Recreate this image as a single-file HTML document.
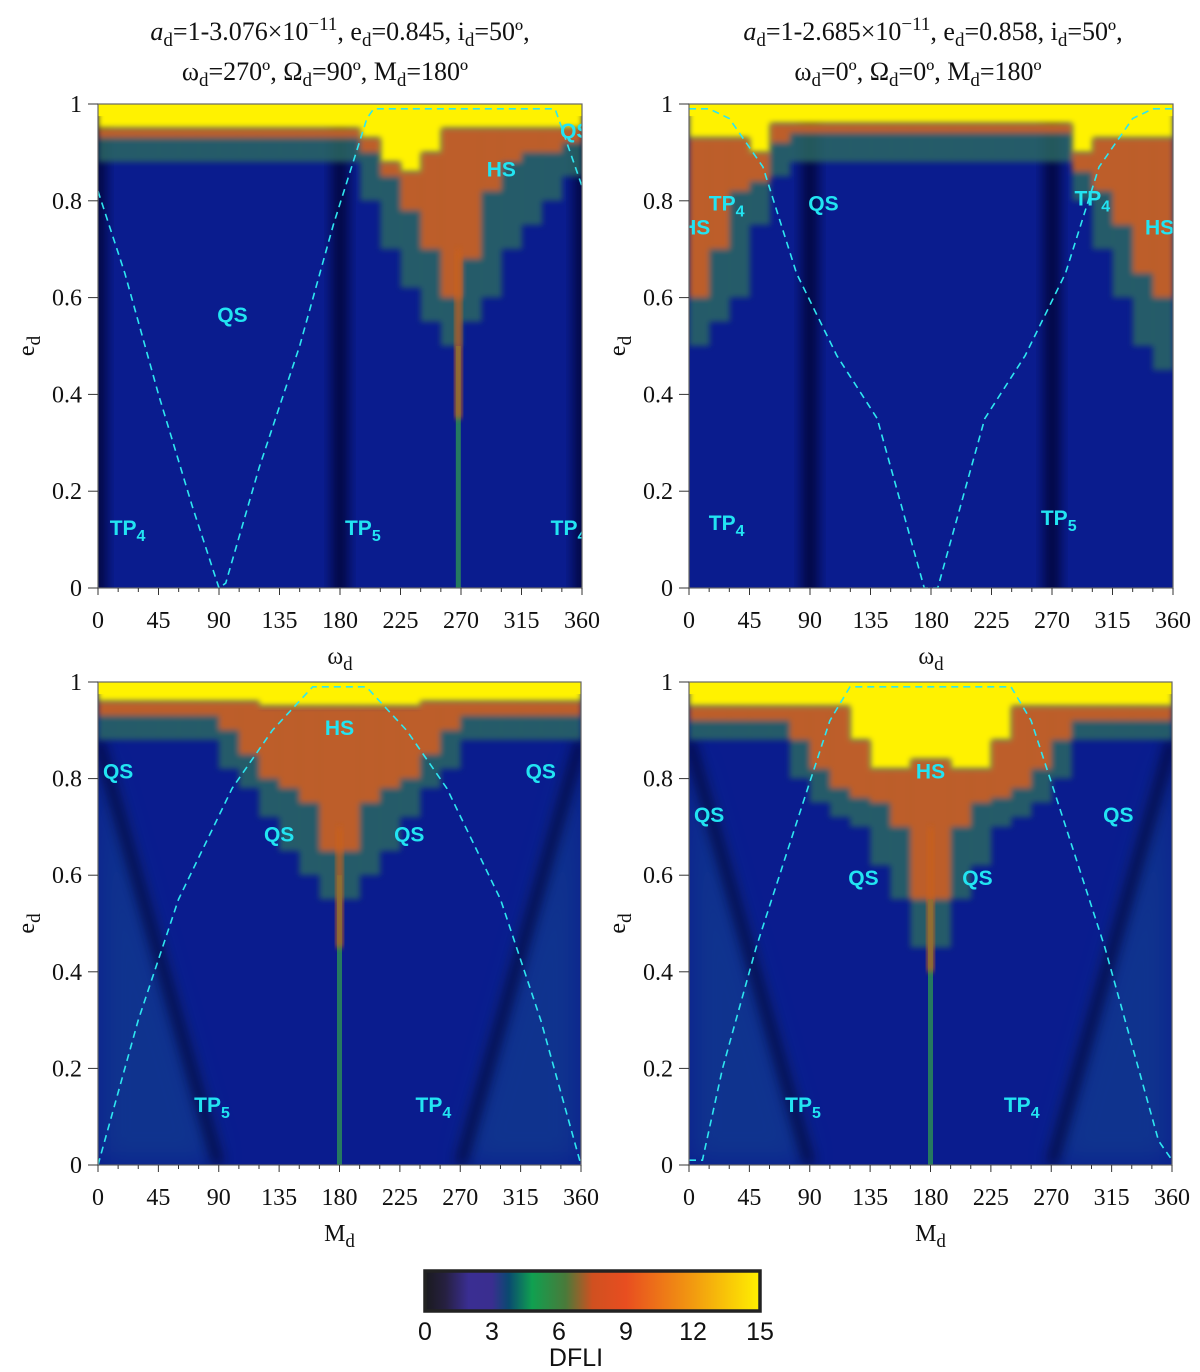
<!DOCTYPE html>
<html><head><meta charset="utf-8">
<style>
html,body{margin:0;padding:0;background:#fff;}
svg{display:block;}
.ttl{font-family:"Liberation Serif",serif;font-size:26px;fill:#111;}
.tk{font-family:"Liberation Serif",serif;font-size:24px;fill:#111;}
.lab{font-family:"Liberation Sans",sans-serif;font-weight:bold;font-size:21px;fill:#22e4f2;}
.cb{font-family:"Liberation Sans",sans-serif;font-size:25px;fill:#111;}
</style></head>
<body>
<svg id="fig" width="1200" height="1372" viewBox="0 0 1200 1372">
<defs>
<linearGradient id="cbar" x1="0" x2="1" y1="0" y2="0">
<stop offset="0" stop-color="#1a1a1e"/><stop offset="0.06" stop-color="#262040"/>
<stop offset="0.13" stop-color="#3a2e92"/><stop offset="0.2" stop-color="#3a2e90"/>
<stop offset="0.25" stop-color="#0a4a70"/><stop offset="0.32" stop-color="#10a050"/>
<stop offset="0.42" stop-color="#4a7a3a"/><stop offset="0.5" stop-color="#d05020"/>
<stop offset="0.6" stop-color="#e84e20"/><stop offset="0.8" stop-color="#f29a10"/>
<stop offset="1" stop-color="#fff000"/>
</linearGradient>
<filter id="blur6" x="-50%" y="-50%" width="200%" height="200%"><feGaussianBlur stdDeviation="6"/></filter>
<filter id="blur10" x="-50%" y="-50%" width="200%" height="200%"><feGaussianBlur stdDeviation="14"/></filter>
<filter id="blur3" x="-10%" y="-10%" width="120%" height="120%"><feGaussianBlur stdDeviation="3"/></filter>
</defs>
<g id="titles">
<text class="ttl" x="340" y="40" text-anchor="middle"><tspan font-style="italic">a</tspan><tspan font-size="19" dy="6">d</tspan><tspan dy="-6">=1-3.076×10</tspan><tspan font-size="19" dy="-10">−11</tspan><tspan dy="10">, e</tspan><tspan font-size="19" dy="6">d</tspan><tspan dy="-6">=0.845, i</tspan><tspan font-size="19" dy="6">d</tspan><tspan dy="-6">=50º,</tspan></text>
<text class="ttl" x="325" y="80" text-anchor="middle">ω<tspan font-size="19" dy="6">d</tspan><tspan dy="-6">=270º, Ω</tspan><tspan font-size="19" dy="6">d</tspan><tspan dy="-6">=90º, M</tspan><tspan font-size="19" dy="6">d</tspan><tspan dy="-6">=180º</tspan></text>
<text class="ttl" x="933" y="40" text-anchor="middle"><tspan font-style="italic">a</tspan><tspan font-size="19" dy="6">d</tspan><tspan dy="-6">=1-2.685×10</tspan><tspan font-size="19" dy="-10">−11</tspan><tspan dy="10">, e</tspan><tspan font-size="19" dy="6">d</tspan><tspan dy="-6">=0.858, i</tspan><tspan font-size="19" dy="6">d</tspan><tspan dy="-6">=50º,</tspan></text>
<text class="ttl" x="918" y="80" text-anchor="middle">ω<tspan font-size="19" dy="6">d</tspan><tspan dy="-6">=0º, Ω</tspan><tspan font-size="19" dy="6">d</tspan><tspan dy="-6">=0º, M</tspan><tspan font-size="19" dy="6">d</tspan><tspan dy="-6">=180º</tspan></text>
</g>
<g id="panels"></g>
<g id="colorbar">
<rect x="425" y="1271" width="335" height="40" fill="url(#cbar)" stroke="#222" stroke-width="3.5"/>
</g>
</svg>
<script>
const NS='http://www.w3.org/2000/svg';
const xTicks=[0,45,90,135,180,225,270,315,360];
const yTicks=[0,0.2,0.4,0.6,0.8,1];
const yTickLabels=['0','0.2','0.4','0.6','0.8','1'];
const cbTicks=[0,3,6,9,12,15];

const p1Yellow=[0.95,0.95,0.95,0.95,0.95,0.95,0.95,0.95,0.95,0.95,0.95,0.95,0.95,0.93,0.88,0.86,0.9,0.95,0.95,0.95,0.95,0.95,0.95,0.95];
const p1Chaos=[0.88,0.88,0.88,0.88,0.88,0.88,0.88,0.88,0.88,0.88,0.88,0.88,0.88,0.8,0.7,0.62,0.55,0.5,0.55,0.6,0.7,0.75,0.8,0.85];
const p1Hot=[0.93,0.93,0.93,0.93,0.93,0.93,0.93,0.93,0.93,0.93,0.93,0.93,0.93,0.9,0.85,0.78,0.7,0.6,0.68,0.82,0.88,0.9,0.9,0.92];
const p2Yellow=[0.93,0.93,0.93,0.9,0.96,0.96,0.96,0.96,0.96,0.96,0.96,0.96,0.96,0.96,0.96,0.96,0.96,0.96,0.96,0.9,0.93,0.93,0.93,0.93];
const p2Chaos=[0.5,0.55,0.6,0.75,0.85,0.88,0.88,0.88,0.88,0.88,0.88,0.88,0.88,0.88,0.88,0.88,0.88,0.88,0.88,0.8,0.7,0.6,0.5,0.45];
const p2Hot=[0.6,0.7,0.82,0.84,0.92,0.94,0.94,0.94,0.94,0.94,0.94,0.94,0.94,0.94,0.94,0.94,0.94,0.94,0.94,0.86,0.82,0.75,0.65,0.6];
const p3Yellow=[0.96,0.96,0.96,0.96,0.96,0.96,0.96,0.96,0.95,0.95,0.95,0.95,0.95,0.95,0.95,0.95,0.96,0.96,0.96,0.96,0.96,0.96,0.96,0.96];
const p3Chaos=[0.88,0.88,0.88,0.88,0.88,0.88,0.82,0.78,0.72,0.65,0.6,0.55,0.55,0.6,0.65,0.72,0.78,0.82,0.88,0.88,0.88,0.88,0.88,0.88];
const p3Hot=[0.93,0.93,0.93,0.93,0.93,0.93,0.9,0.85,0.8,0.78,0.75,0.65,0.65,0.75,0.78,0.8,0.85,0.9,0.93,0.93,0.93,0.93,0.93,0.93];
const p4Yellow=[0.95,0.95,0.95,0.95,0.95,0.95,0.95,0.95,0.88,0.82,0.82,0.84,0.84,0.82,0.82,0.88,0.95,0.95,0.95,0.95,0.95,0.95,0.95,0.95];
const p4Chaos=[0.88,0.88,0.88,0.88,0.88,0.8,0.75,0.72,0.7,0.62,0.55,0.45,0.45,0.55,0.62,0.7,0.72,0.75,0.8,0.88,0.88,0.88,0.88,0.88];
const p4Hot=[0.92,0.92,0.92,0.92,0.92,0.88,0.82,0.78,0.76,0.75,0.7,0.55,0.55,0.7,0.75,0.76,0.78,0.82,0.88,0.92,0.92,0.92,0.92,0.92];

const p1Curve=[[0,0.82],[20,0.65],[45,0.4],[70,0.17],[90,0],[95,0.01],[120,0.25],[150,0.5],[175,0.75],[200,0.97],[205,0.99],[340,0.99],[345,0.95],[360,0.83]];
const p2Curve=[[0,0.99],[15,0.99],[30,0.97],[55,0.87],[80,0.65],[110,0.48],[140,0.35],[160,0.15],[175,0],[185,0],[200,0.15],[220,0.35],[250,0.48],[280,0.65],[305,0.87],[330,0.97],[345,0.99],[360,0.99]];
const p3Curve=[[0,0],[30,0.3],[60,0.55],[100,0.78],[130,0.9],[160,0.99],[200,0.99],[230,0.9],[260,0.78],[300,0.55],[330,0.3],[360,0]];
const p4Curve=[[0,0.01],[10,0.01],[25,0.2],[50,0.45],[85,0.75],[105,0.92],[120,0.99],[240,0.99],[255,0.92],[275,0.75],[310,0.45],[335,0.2],[350,0.05],[360,0.01]];

const p1Bands=[0,180,360];
const p2Bands=[90,270];
const p3Diag=[[0,0.88,90,0],[360,0.88,270,0]];
const p4Diag=[[0,0.88,90,0],[360,0.88,270,0]];

const p1Tail=[268,0.35];
const p3Tail=[180,0.45];
const p4Tail=[180,0.4];

const p1Labels=[['QS','',100,0.55],['HS','',300,0.85],['QS','',355,0.93],['TP','4',22,0.11],['TP','4',350,0.11],['TP','5',197,0.11]];
const p2Labels=[['QS','',100,0.78],['HS','',5,0.73],['HS','',350,0.73],['TP','4',28,0.78],['TP','4',300,0.79],['TP','4',28,0.12],['TP','5',275,0.13]];
const p3Labels=[['QS','',15,0.8],['QS','',330,0.8],['HS','',180,0.89],['QS','',135,0.67],['QS','',232,0.67],['TP','5',85,0.11],['TP','4',250,0.11]];
const p4Labels=[['QS','',15,0.71],['QS','',320,0.71],['HS','',180,0.8],['QS','',130,0.58],['QS','',215,0.58],['TP','5',85,0.11],['TP','4',248,0.11]];

const panels=[
 {id:'top-left',x0:98,y0:104,w:484,h:484,xl:'ω',Y:p1Yellow,C:p1Chaos,H:p1Hot,curve:p1Curve,bands:p1Bands,diag:[],tail:p1Tail,labels:p1Labels},
 {id:'top-right',x0:689,y0:104,w:484,h:484,xl:'ω',Y:p2Yellow,C:p2Chaos,H:p2Hot,curve:p2Curve,bands:p2Bands,diag:[],tail:null,labels:p2Labels},
 {id:'bottom-left',x0:98,y0:682,w:483,h:483,xl:'M',Y:p3Yellow,C:p3Chaos,H:p3Hot,curve:p3Curve,bands:[],diag:p3Diag,tail:p3Tail,labels:p3Labels},
 {id:'bottom-right',x0:689,y0:682,w:483,h:483,xl:'M',Y:p4Yellow,C:p4Chaos,H:p4Hot,curve:p4Curve,bands:[],diag:p4Diag,tail:p4Tail,labels:p4Labels}
];
function mk(tag,attrs,parent){const e=document.createElementNS(NS,tag);for(const k in attrs)e.setAttribute(k,attrs[k]);parent.appendChild(e);return e;}
const root=document.getElementById('panels');
panels.forEach(p=>{
 const X=a=>p.x0+a/360*p.w, Yp=e=>p.y0+(1-e)*p.h;
 const g=mk('g',{},root);
 
 
 const clipId='clip-'+p.id;
 const cp=mk('clipPath',{id:clipId},g);mk('rect',{x:p.x0,y:p.y0,width:p.w,height:p.h},cp);
 const hm=mk('g',{'clip-path':'url(#'+clipId+')'},g);
 
 
 mk('rect',{x:p.x0,y:p.y0,width:p.w,height:p.h,fill:'#0a1c8e'},hm);
 p.bands.forEach(a=>{const r=mk('rect',{x:X(a)-8,y:p.y0-20,width:16,height:p.h+40,fill:'#020628',opacity:0.75,filter:'url(#blur6)'},hm);
  });
 p.diag.forEach(d=>{
  const tri=mk('polygon',{points:X(d[0])+','+Yp(d[1])+' '+X(d[2])+','+Yp(d[3])+' '+X(d[0])+','+Yp(d[3]),fill:'#1a6a90',opacity:0.3,filter:'url(#blur10)'},hm);
  
  const l=mk('line',{x1:X(d[0]),y1:Yp(d[1]),x2:X(d[2]),y2:Yp(d[3]),stroke:'#020420',"stroke-width":8,opacity:0.85,filter:'url(#blur6)'},hm);
  
 });
 const n=p.C.length,bw=p.w/n;
 const cg=mk('g',{filter:'url(#blur3)'},hm);
 for(let i=0;i<n;i++){
  const x=p.x0+i*bw;
  const c=mk('rect',{x:x,y:Yp(p.Y[i]),width:bw+0.5,height:Yp(p.C[i])-Yp(p.Y[i]),fill:'#2a6a60',opacity:0.8},cg);
  
  const h=mk('rect',{x:x,y:Yp(p.Y[i]),width:bw+0.5,height:Yp(p.H[i])-Yp(p.Y[i]),fill:'#d8601e',opacity:0.85},cg);
  
 }
 const yg=mk('g',{filter:'url(#blur3)'},hm);
 for(let i=0;i<n;i++){
  const y=mk('rect',{x:p.x0+i*bw,y:p.y0-10,width:bw+0.5,height:Yp(p.Y[i])-p.y0+10,fill:'#fff200'},yg);
  
 }
 mk('rect',{x:p.x0,y:p.y0,width:p.w,height:Yp(0.975)-p.y0,fill:'#fff200'},hm);
 if(p.tail){
  const t=mk('rect',{x:X(p.tail[0])-2.5,y:Yp(p.tail[1]+0.15),width:5,height:Yp(0)-Yp(p.tail[1]+0.15),fill:'#2a8a58',opacity:0.85},hm);
  
  const t2=mk('rect',{x:X(p.tail[0])-4,y:Yp(0.7),width:8,height:Yp(p.tail[1])-Yp(0.7),fill:'#c8601e',opacity:0.8,filter:'url(#blur3)'},hm);
  
 }
 const pts=p.curve.map(c=>X(c[0])+','+Yp(c[1])).join(' ');
 const cv=mk('polyline',{points:pts,fill:'none',stroke:'#2ee6f0',"stroke-width":1.6,"stroke-dasharray":'7,5'},hm);
 
 p.labels.forEach(L=>{
  const t=mk('text',{x:X(L[2]),y:Yp(L[3]),'class':'lab','text-anchor':'middle'},hm);
  t.textContent=L[0];
  if(L[1]){const s=mk('tspan',{'font-size':16,dy:6},t);s.textContent=L[1];}
  
 });
 const fr=mk('rect',{x:p.x0,y:p.y0,width:p.w,height:p.h,fill:'none',stroke:'#666',"stroke-width":1.2},g);
 
 for(let a=0;a<=360;a+=15){mk('line',{x1:X(a),x2:X(a),y1:p.y0+p.h,y2:p.y0+p.h+(a%45===0?7:4),stroke:'#333'},g);}
 xTicks.forEach(a=>{const t=mk('text',{x:X(a),y:p.y0+p.h+40,'class':'tk','text-anchor':'middle'},g);t.textContent=String(a);
  });
 yTicks.forEach((e,i)=>{mk('line',{x1:p.x0-10,x2:p.x0,y1:Yp(e),y2:Yp(e),stroke:'#333'},g);
  const t=mk('text',{x:p.x0-16,y:Yp(e)+8,'class':'tk','text-anchor':'end'},g);t.textContent=yTickLabels[i];
  });
 const xt=mk('text',{x:p.x0+p.w/2,y:p.y0+p.h+76,'class':'tk','text-anchor':'middle','font-size':26},g);
 xt.textContent=p.xl;const xs=mk('tspan',{'font-size':19,dy:6},xt);xs.textContent='d';
 
 const yt=mk('text',{x:0,y:0,'class':'tk','text-anchor':'middle','font-size':26,transform:'translate('+(p.x0-64)+','+(p.y0+p.h/2)+') rotate(-90)'},g);
 yt.textContent='e';const ys=mk('tspan',{'font-size':19,dy:6},yt);ys.textContent='d';
 
});
const cbg=document.getElementById('colorbar');
cbTicks.forEach(v=>{const t=mk('text',{x:425+v/15*335,y:1340,'class':'cb','text-anchor':'middle'},cbg);t.textContent=String(v);
 });
const dl=mk('text',{x:576,y:1366,'class':'cb','text-anchor':'middle'},cbg);dl.textContent='DFLI';

</script>
</body></html>
